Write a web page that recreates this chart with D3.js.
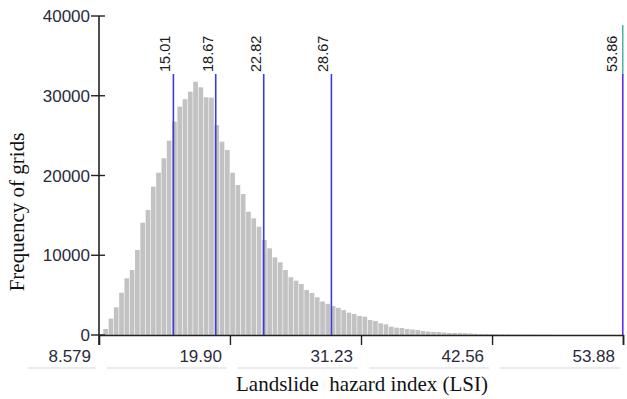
<!DOCTYPE html>
<html><head><meta charset="utf-8">
<script src="https://cdn.jsdelivr.net/npm/d3@7"></script>
<style>body{margin:0;background:#fff}svg{display:block}</style>
</head><body>
<script>
// ---- data ----
const binStart = 8.951;     // LSI value where first bin starts
const binWidth = 0.4573;    // LSI width of a bin
const counts = [750,2050,3470,5300,7110,8150,10660,14080,15680,18600,
  20350,22160,24370,26750,28630,29560,30510,31760,31060,29810,
  29760,26330,24240,23200,20350,18810,17680,15460,14630,13580,
  11910,10870,9740,9120,8150,7240,6810,6400,5640,5260,
  4730,4200,3910,3640,3410,3120,2800,2630,2380,2290,
  1880,1760,1470,1340,1040,920,880,750,690,630,
  500,440,380,370,310,250,250,240,220,190,
  150,130,120,100,90,80,70,60,55,50,45,40,35,30,25];
const thresholds = [15.01, 18.67, 22.82, 28.67, 53.86];
const xTicks = [8.579, 19.90, 31.23, 42.56, 53.88];
const xTickLabels = ["8.579", "19.90", "31.23", "42.56", "53.88"];
const yTicks = [0, 10000, 20000, 30000, 40000];

const W = 627, H = 399;
const svg = d3.select("body").append("svg").attr("width", W).attr("height", H);
const x = d3.scaleLinear().domain([8.579, 53.88]).range([99, 623]);
const y = d3.scaleLinear().domain([0, 40000]).range([335, 16]);

// bars
svg.append("g").selectAll("rect").data(counts).join("rect")
  .attr("x", (d,i) => x(binStart + i*binWidth))
  .attr("width", (d,i) => x(binStart + (i+1)*binWidth) - x(binStart + i*binWidth) - 0.6)
  .attr("y", d => y(d))
  .attr("height", d => y(0) - y(d))
  .attr("fill", "#c2c2c2");

// threshold lines
const lineColors = ["#3c3cdc","#3c3cdc","#3c3cdc","#3c3cdc","#5a30e6"];
thresholds.forEach((t, i) => {
  const xx = x(t);
  const last = i === thresholds.length - 1;
  if (last) {
    svg.append("line").attr("x1", xx).attr("x2", xx).attr("y1", 25).attr("y2", 75)
      .attr("stroke", "#4fb0a8").attr("stroke-width", 1.5);
  }
  svg.append("line").attr("x1", xx).attr("x2", xx).attr("y1", 74).attr("y2", y(0))
    .attr("stroke", lineColors[i]).attr("stroke-width", 1.6);
  svg.append("text")
    .attr("transform", `translate(${xx - (last ? 6 : 3)},72) rotate(-90)`)
    .attr("text-anchor", "start")
    .attr("font-family", "Liberation Sans, Arial, sans-serif")
    .attr("font-size", 14.5).attr("fill", "#1a1a1a")
    .text(t.toFixed(2));
});

// x axis
const xAxis = svg.append("g").attr("transform", `translate(0,${y(0)})`)
  .call(d3.axisBottom(x).tickValues(xTicks.slice(1)).tickSize(10).tickFormat(""));
xAxis.select(".domain").attr("stroke", "#222").attr("stroke-width", 1.6);
xAxis.selectAll(".tick line").attr("stroke", "#222").attr("stroke-width", 1.4);
svg.append("g").selectAll("text").data(xTicks).join("text")
  .attr("x", d => x(d) - 8).attr("y", 362)
  .attr("text-anchor", "end")
  .attr("font-family", "Liberation Sans, Arial, sans-serif")
  .attr("font-size", 17).attr("fill", "#2a2a3a")
  .text((d,i) => xTickLabels[i]);
// faint underlines below tick labels
svg.append("g").selectAll("line").data(xTicks).join("line")
  .attr("x1", (d,i) => i === 0 ? 28 : x(xTicks[i-1]) + 8)
  .attr("x2", d => x(d) - 3)
  .attr("y1", 368).attr("y2", 368)
  .attr("stroke", "#e4e4e4").attr("stroke-width", 1.5);

// y axis
svg.append("line").attr("x1", 99).attr("x2", 99).attr("y1", y(40000)).attr("y2", 345)
  .attr("stroke", "#222").attr("stroke-width", 1.6);
const yg = svg.append("g");
yg.selectAll("line").data(yTicks).join("line")
  .attr("x1", 91).attr("x2", 105).attr("y1", d => y(d)).attr("y2", d => y(d))
  .attr("stroke", "#222").attr("stroke-width", 1.4);
yg.selectAll("text").data(yTicks).join("text")
  .attr("x", 90).attr("y", d => y(d)).attr("dy", "0.36em")
  .attr("text-anchor", "end")
  .attr("font-family", "Liberation Sans, Arial, sans-serif")
  .attr("font-size", 17).attr("fill", "#2a2a3a")
  .text(d => d3.format("d")(d));

// axis titles
svg.append("text")
  .attr("transform", "translate(24,212) rotate(-90)")
  .attr("text-anchor", "middle")
  .attr("font-family", "Liberation Serif, Times New Roman, serif")
  .attr("font-size", 21).attr("fill", "#111")
  .text("Frequency of grids");
svg.append("text")
  .attr("x", 362).attr("y", 391)
  .attr("text-anchor", "middle")
  .attr("font-family", "Liberation Serif, Times New Roman, serif")
  .attr("font-size", 21).attr("fill", "#111")
  .style("white-space", "pre")
  .text("Landslide  hazard index (LSI)");
</script>
</body></html>
